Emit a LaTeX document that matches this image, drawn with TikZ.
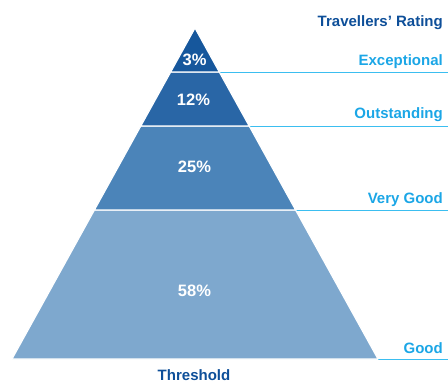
\documentclass[tikz,border=0pt]{standalone}
\usepackage{fontspec}
\setmainfont{Liberation Sans}
\definecolor{topblue}{HTML}{16579C}
\definecolor{midblue}{HTML}{2966A6}
\definecolor{lowblue}{HTML}{4B84B9}
\definecolor{baseblue}{HTML}{7EA8CE}
\definecolor{titleblue}{HTML}{0E4F99}
\definecolor{ratecyan}{HTML}{1BA6E6}
\definecolor{linecyan}{HTML}{3BBEF0}
\tikzset{
  rate/.style={font=\bfseries\fontsize{15}{15}\selectfont,text=ratecyan,anchor=base east,inner sep=0pt},
  head/.style={font=\bfseries\fontsize{15}{15}\selectfont,text=titleblue,inner sep=0pt},
  pct/.style={font=\bfseries\fontsize{16.5}{16.5}\selectfont,text=white,anchor=base,inner sep=0pt},
  layer/.style={draw=white,line width=1.2pt,line join=round},
  rateline/.style={draw=linecyan,line width=0.9pt}
}
\begin{document}
\begin{tikzpicture}[x=1pt,y=-1pt]
    \useasboundingbox (0,0) rectangle (448,383);
    % pyramid corners
    \coordinate (apex) at (195,28);
    \coordinate (l1) at (170.7,72);  \coordinate (r1) at (219.3,72);
    \coordinate (l2) at (140.8,126); \coordinate (r2) at (249.2,126);
    \coordinate (l3) at (94.4,210);  \coordinate (r3) at (295.6,210);
    \coordinate (l4) at (12,359);    \coordinate (r4) at (378,359);
    % right ends of the rating lines
    \coordinate (e1) at (448,72);
    \coordinate (e2) at (448,126);
    \coordinate (e3) at (448,210);
    \coordinate (e4) at (448,359);
    \draw[rateline](r1)--(e1);
    \draw[rateline](r2)--(e2);
    \draw[rateline](r3)--(e3);
    \draw[rateline](r4)--(e4);
    \fill[baseblue,layer](l3)--(r3)--(r4)--(l4)--cycle;
    \fill[lowblue,layer](l2)--(r2)--(r3)--(l3)--cycle;
    \fill[midblue,layer](l1)--(r1)--(r2)--(l2)--cycle;
    \fill[topblue,layer](apex)--(r1)--(l1)--cycle;
    \node[pct] (p3) at (194.5,65) {3\%};
    \node[pct] (p12) at (193.5,105) {12\%};
    \node[pct] (p25) at (194.5,172.5) {25\%};
    \node[pct] (p58) at (194.5,296) {58\%};
    \node[head,anchor=base east] (title) at (443,26.5) {Travellers’ Rating};
    \node[rate] (exc) at (443,65.5) {Exceptional};
    \node[rate] (out) at (443,118) {Outstanding};
    \node[rate] (vgood) at (443,203) {Very Good};
    \node[rate] (good) at (443,353) {Good};
    \node[head,anchor=base] (thr) at (194,380.5) {Threshold};
\end{tikzpicture}
\end{document}
